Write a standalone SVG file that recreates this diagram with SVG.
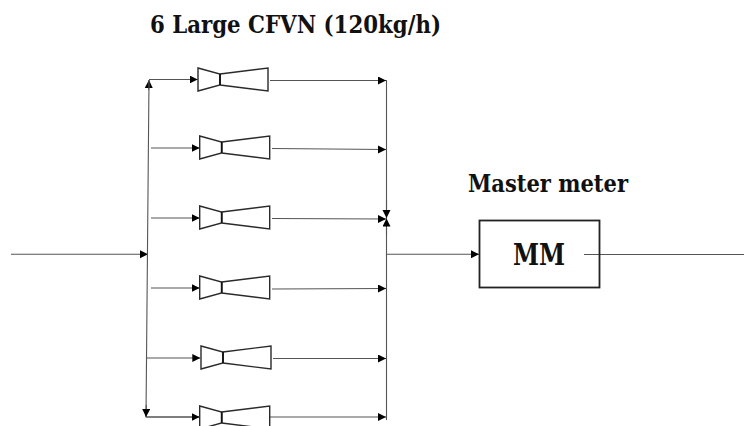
<svg xmlns="http://www.w3.org/2000/svg" width="744" height="426" viewBox="0 0 744 426">
<style>
.c{fill:none;stroke:#555;stroke-width:1.1}
.a{marker-end:url(#arrow)}
.v{fill:#fff;stroke:#2a2a2a;stroke-width:1.4}
.t{font-family:"DejaVu Serif Condensed","Liberation Serif",serif;font-weight:bold;fill:#111}
</style>
<defs>
<marker id="arrow" markerUnits="userSpaceOnUse" markerWidth="10" markerHeight="10" refX="8" refY="4" orient="auto">
<path d="M0,0L8,4L0,8Z" fill="#000"/>
</marker>
<g id="venturi">
<path class="v" d="M0,0L22,6V17L0,23ZM22,6L70,0V23L22,17"/>
<path d="M22,6V17" fill="none" stroke="#111" stroke-width="1.8"/>
</g>
</defs>
<rect width="744" height="426" fill="#fff"/>
<g id="connectors">
<path class="c a" d="M11,254.3H148"/>
<path class="c a" d="M148.7,90L149,80"/>
<path class="c" d="M149,80L146,417H199.5"/>
<path class="c a" d="M146.3,405L146,417"/>
<path class="c a" d="M149,79.5H197.7"/>
<path class="c a" d="M151,148H199.7"/>
<path class="c a" d="M151,218H199.7"/>
<path class="c a" d="M151,288H199.7"/>
<path class="c a" d="M146.5,358H200.3"/>
<path class="c a" d="M146,417H199.7"/>
<path class="c" d="M386.5,80V420"/>
<path class="c a" d="M270,80.5H386"/>
<path class="c a" d="M272,148.5L386,149.5"/>
<path class="c a" d="M272,218.5L386,219"/>
<path class="c a" d="M272,289L386,288.5"/>
<path class="c a" d="M273,358.5H386"/>
<path class="c a" d="M270,417H386"/>
<path class="c a" d="M386.5,200V218"/>
<path class="c a" d="M386.5,235V218.5"/>
<path class="c a" d="M387,254.3H479"/>
<path class="c" d="M584,254.5H744"/>
</g>
<g id="cfvn1"><use href="#venturi" x="198" y="68"/></g>
<g id="cfvn2"><use href="#venturi" x="199.7" y="136"/></g>
<g id="cfvn3"><use href="#venturi" x="199.7" y="206"/></g>
<g id="cfvn4"><use href="#venturi" x="199.7" y="276"/></g>
<g id="cfvn5"><use href="#venturi" x="201" y="346"/></g>
<g id="cfvn6"><use href="#venturi" x="199.7" y="406"/></g>
<g id="title"><text class="t" x="150" y="33" font-size="23.5" textLength="291" lengthAdjust="spacingAndGlyphs">6 Large CFVN (120kg/h)</text></g>
<g id="mm">
<text class="t" x="468" y="192" font-size="23.5" textLength="160" lengthAdjust="spacingAndGlyphs">Master meter</text>
<rect x="479.5" y="220.5" width="120" height="67" fill="none" stroke="#222" stroke-width="1.8"/>
<text class="t" x="539" y="265" font-size="29" text-anchor="middle" textLength="52" lengthAdjust="spacingAndGlyphs">MM</text>
</g>
</svg>
